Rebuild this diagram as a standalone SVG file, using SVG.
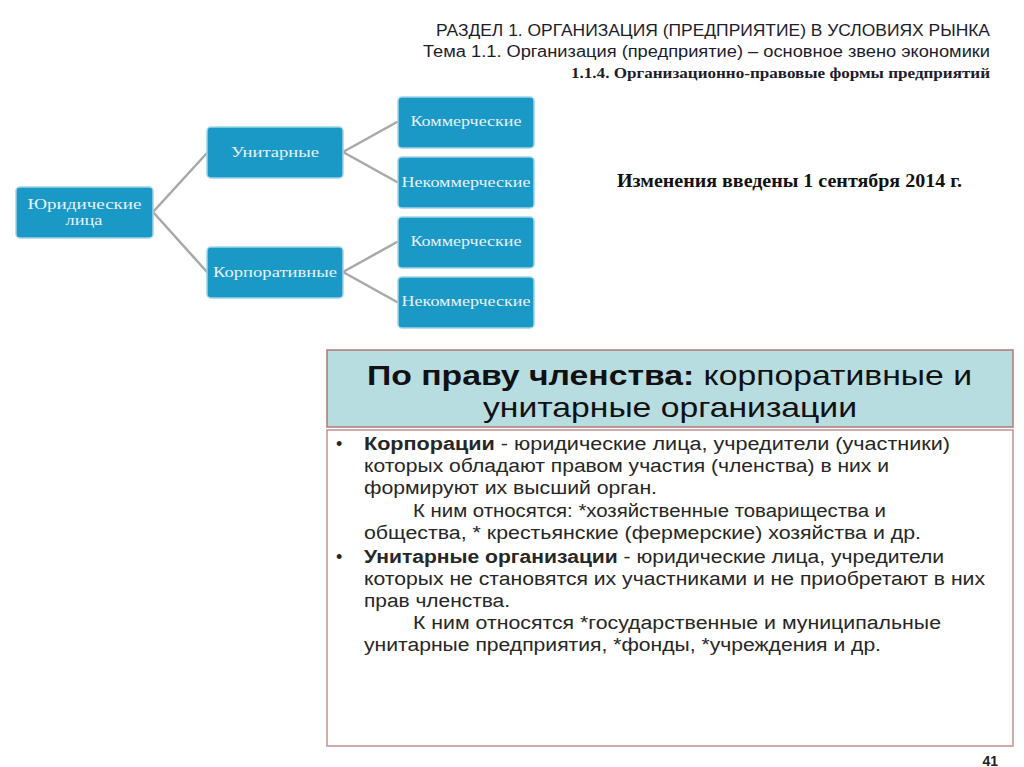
<svg xmlns="http://www.w3.org/2000/svg" width="1024" height="767" viewBox="0 0 1024 767">
<style>
.node rect{fill:#1a98c6;stroke:#9fd3e6;stroke-width:1.5}
.node text{font-family:"Liberation Serif",serif;font-size:15px;fill:#e6f3f9;text-anchor:middle}
.conn line{stroke:#a8a8a8;stroke-width:2.5;stroke-linecap:round}
.hdr{font-family:"Liberation Sans",Arial,sans-serif;font-size:16px;fill:#1c1c2c;text-anchor:end}
.body{font-family:"Liberation Sans",Arial,sans-serif;font-size:18px;fill:#262626}
.big{font-family:"Liberation Sans",Arial,sans-serif;font-size:28px;fill:#111}
</style>
<rect width="1024" height="767" fill="#ffffff"/>
<g id="title">
<text class="hdr" x="990" y="36" textLength="554" lengthAdjust="spacingAndGlyphs">РАЗДЕЛ 1. ОРГАНИЗАЦИЯ (ПРЕДПРИЯТИЕ) В УСЛОВИЯХ РЫНКА</text>
<text class="hdr" x="990" y="57" textLength="567" lengthAdjust="spacingAndGlyphs">Тема 1.1. Организация (предприятие) – основное звено экономики</text>
<text x="990" y="78" textLength="419" lengthAdjust="spacingAndGlyphs" style="font-family:'Liberation Serif',serif;font-size:15px;font-weight:bold;fill:#1c1c2c;text-anchor:end">1.1.4. Организационно-правовые формы предприятий</text>
</g>
<g id="connectors" class="conn">
<line x1="153" y1="212" x2="207" y2="153"/>
<line x1="153" y1="212" x2="207" y2="272"/>
<line x1="343" y1="152" x2="397" y2="122"/>
<line x1="343" y1="152" x2="397" y2="182"/>
<line x1="343" y1="272" x2="397" y2="242"/>
<line x1="343" y1="272" x2="397" y2="302"/>
</g>
<g id="n_yur" class="node"><rect x="16" y="187" width="137" height="51" rx="4"/><text x="84.5" y="209" textLength="114" lengthAdjust="spacingAndGlyphs">Юридические</text><text x="84" y="225" textLength="37" lengthAdjust="spacingAndGlyphs">лица</text></g>
<g id="n_unit" class="node"><rect x="207" y="127" width="136" height="51" rx="4"/><text x="275" y="157" textLength="88" lengthAdjust="spacingAndGlyphs">Унитарные</text></g>
<g id="n_corp" class="node"><rect x="207" y="247" width="136" height="51" rx="4"/><text x="275" y="277" textLength="124" lengthAdjust="spacingAndGlyphs">Корпоративные</text></g>
<g id="n_k1" class="node"><rect x="398" y="97" width="136" height="51" rx="4"/><text x="466" y="126" textLength="111" lengthAdjust="spacingAndGlyphs">Коммерческие</text></g>
<g id="n_nk1" class="node"><rect x="398" y="157" width="136" height="51" rx="4"/><text x="466" y="187" textLength="129" lengthAdjust="spacingAndGlyphs">Некоммерческие</text></g>
<g id="n_k2" class="node"><rect x="398" y="217" width="136" height="51" rx="4"/><text x="466" y="246" textLength="111" lengthAdjust="spacingAndGlyphs">Коммерческие</text></g>
<g id="n_nk2" class="node"><rect x="398" y="277" width="136" height="51" rx="4"/><text x="466" y="306" textLength="129" lengthAdjust="spacingAndGlyphs">Некоммерческие</text></g>
<g id="note">
<text x="617" y="187" textLength="345" lengthAdjust="spacingAndGlyphs" style="font-family:'Liberation Serif',serif;font-size:18px;font-weight:bold;fill:#111">Изменения введены 1 сентября 2014 г.</text>
</g>
<g id="header_box">
<rect x="327" y="350" width="686" height="77" fill="#b8dde1" stroke="#b07878" stroke-width="1.5"/>
<text class="big" x="367" y="385" textLength="605" lengthAdjust="spacingAndGlyphs"><tspan font-weight="bold">По праву членства:</tspan> корпоративные и</text>
<text class="big" x="483" y="417" textLength="374" lengthAdjust="spacingAndGlyphs">унитарные организации</text>
</g>
<g id="text_box">
<rect x="327" y="430" width="686" height="316" fill="#ffffff" stroke="#c09090" stroke-width="1.5"/>
<text class="body" x="336" y="450">•</text>
<text class="body" x="364" y="450" textLength="586" lengthAdjust="spacingAndGlyphs"><tspan font-weight="bold">Корпорации</tspan> - юридические лица, учредители (участники)</text>
<text class="body" x="364" y="472" textLength="525" lengthAdjust="spacingAndGlyphs">которых обладают правом участия (членства) в них и</text>
<text class="body" x="364" y="494" textLength="293" lengthAdjust="spacingAndGlyphs">формируют их высший орган.</text>
<text class="body" x="413" y="517" textLength="473" lengthAdjust="spacingAndGlyphs">К ним относятся: *хозяйственные товарищества и</text>
<text class="body" x="364" y="539" textLength="557" lengthAdjust="spacingAndGlyphs">общества, * крестьянские (фермерские) хозяйства  и др.</text>
<text class="body" x="336" y="563">•</text>
<text class="body" x="364" y="563" textLength="580" lengthAdjust="spacingAndGlyphs"><tspan font-weight="bold">Унитарные организации</tspan> - юридические лица, учредители</text>
<text class="body" x="364" y="585" textLength="621" lengthAdjust="spacingAndGlyphs">которых не становятся их участниками и не приобретают в них</text>
<text class="body" x="364" y="607" textLength="146" lengthAdjust="spacingAndGlyphs">прав членства.</text>
<text class="body" x="413" y="629" textLength="528" lengthAdjust="spacingAndGlyphs">К ним относятся *государственные и муниципальные</text>
<text class="body" x="364" y="651" textLength="517" lengthAdjust="spacingAndGlyphs">унитарные предприятия, *фонды, *учреждения и др.</text>
</g>
<text x="998" y="766" style="font-family:'Liberation Sans',Arial,sans-serif;font-size:14px;font-weight:bold;fill:#222;text-anchor:end">41</text>
</svg>
